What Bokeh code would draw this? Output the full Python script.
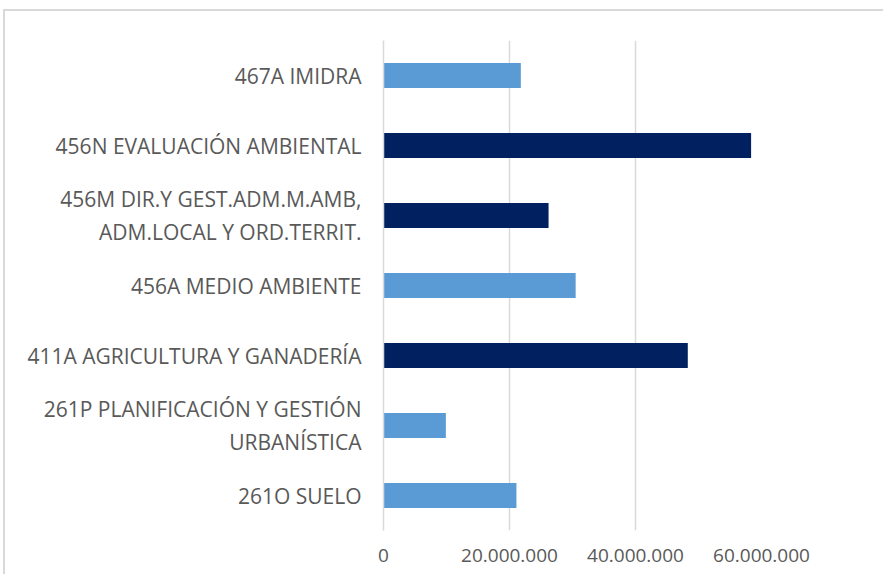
from bokeh.plotting import figure
from bokeh.models import ColumnDataSource, FixedTicker, CustomJSTickFormatter, FactorRange, Range1d
from bokeh.embed import file_html
from bokeh.resources import INLINE

categories = [
    "261O SUELO",
    "261P PLANIFICACIÓN Y GESTIÓN\nURBANÍSTICA",
    "411A AGRICULTURA Y GANADERÍA",
    "456A MEDIO AMBIENTE",
    "456M DIR.Y GEST.ADM.M.AMB,\nADM.LOCAL Y ORD.TERRIT.",
    "456N EVALUACIÓN AMBIENTAL",
    "467A IMIDRA",
]
values = [21100000, 9900000, 48300000, 30500000, 26200000, 58350000, 21800000]
colors = ["#5B9BD5", "#5B9BD5", "#002060", "#5B9BD5", "#002060", "#002060", "#5B9BD5"]
x_ticks = [0, 20000000, 40000000, 60000000]

src = ColumnDataSource(dict(cat=categories, val=values, color=colors))

p = figure(
    y_range=FactorRange(*categories, range_padding=0),
    x_range=Range1d(0, 60000000),
    width=880, height=565,
    output_backend="svg", toolbar_location=None,
    min_border_left=378, min_border_right=124, min_border_top=29, min_border_bottom=46,
)
p.hbar(y="cat", right="val", height=0.36, color="color", source=src, line_color=None)

p.outline_line_color = None
p.background_fill_color = "white"
p.border_fill_color = "white"

p.xgrid.ticker = FixedTicker(ticks=x_ticks)
p.xgrid.grid_line_color = "#D9D9D9"
p.xgrid.grid_line_width = 1.5
p.ygrid.grid_line_color = None

p.xaxis.ticker = FixedTicker(ticks=x_ticks)
p.xaxis.formatter = CustomJSTickFormatter(code="""
return Math.round(tick).toString().replace(/\\B(?=(\\d{3})+(?!\\d))/g, ".");
""")
p.xaxis.axis_line_color = None
p.xaxis.major_tick_line_color = None
p.xaxis.minor_tick_line_color = None
p.xaxis.major_label_text_font = "Open Sans"
p.xaxis.major_label_text_font_size = "19px"
p.xaxis.major_label_text_color = "#595959"
p.xaxis.major_label_standoff = 12

p.yaxis.axis_line_color = "#D9D9D9"
p.yaxis.axis_line_width = 1.5
p.yaxis.major_tick_line_color = None
p.yaxis.minor_tick_line_color = None
p.yaxis.major_label_text_font = "Open Sans"
p.yaxis.major_label_text_font_size = "21px"
p.yaxis.major_label_text_color = "#595959"
p.yaxis.major_label_standoff = 16

p.styles = {"border-left": "2px solid #D9D9D9", "border-top": "2px solid #D9D9D9",
            "margin-left": "3px", "margin-top": "9px"}

open("out.html", "w").write(file_html(p, INLINE))
